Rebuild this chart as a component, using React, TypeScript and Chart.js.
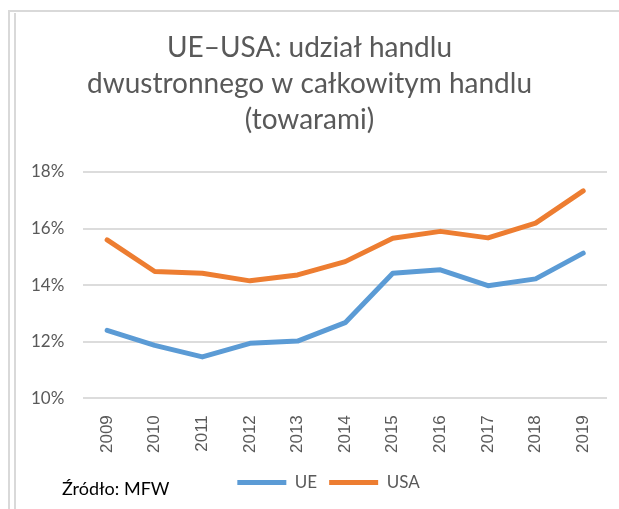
import React, { useEffect, useRef } from "react";
import { Chart, registerables } from "chart.js";

Chart.register(...registerables);

const years = ["2009", "2010", "2011", "2012", "2013", "2014", "2015", "2016", "2017", "2018", "2019"];
const ueValues = [12.40, 11.87, 11.46, 11.94, 12.02, 12.67, 14.42, 14.54, 13.98, 14.22, 15.13];
const usaValues = [15.60, 14.48, 14.42, 14.15, 14.36, 14.83, 15.66, 15.90, 15.67, 16.19, 17.33];
const yTicks = [10, 12, 14, 16, 18];
const titleLines = ["UE–USA: udział handlu", "dwustronnego w całkowitym handlu", "(towarami)"];
const sourceText = "Źródło: MFW";

const BLUE = "#5B9BD5";
const ORANGE = "#ED7D31";
const TEXT = "#595959";

const framePlugin = {
  id: "frame",
  afterLayout(chart: any) {
    const lg = chart.legend;
    if (lg) {
      lg.left += 19;
      lg.right += 19;
    }
  },
  beforeDraw(chart: any) {
    const ctx = chart.ctx;
    ctx.save();
    ctx.strokeStyle = "#d9d9d9";
    ctx.lineWidth = 2;
    ctx.beginPath();
    ctx.moveTo(8, 11);
    ctx.lineTo(chart.width, 11);
    ctx.moveTo(9, 11);
    ctx.lineTo(9, chart.height);
    ctx.moveTo(15, 13);
    ctx.lineTo(15, chart.height);
    ctx.stroke();
    ctx.restore();
  },
  afterDraw(chart: any) {
    const ctx = chart.ctx;
    ctx.save();
    ctx.fillStyle = "#000000";
    ctx.font = "18px Lato";
    ctx.textBaseline = "alphabetic";
    ctx.fillText(sourceText, 62, 495);
    ctx.restore();
  },
};

export default function App() {
  const ref = useRef<HTMLCanvasElement>(null);
  useEffect(() => {
    if (!ref.current) return;
    const chart = new Chart(ref.current, {
      type: "line",
      data: {
        labels: years,
        datasets: [
          {
            label: "UE",
            data: ueValues,
            borderColor: BLUE,
            backgroundColor: BLUE,
            borderWidth: 5,
            pointRadius: 0,
            tension: 0,
            borderCapStyle: "round",
            borderJoinStyle: "round",
          },
          {
            label: "USA",
            data: usaValues,
            borderColor: ORANGE,
            backgroundColor: ORANGE,
            borderWidth: 5,
            pointRadius: 0,
            tension: 0,
            borderCapStyle: "round",
            borderJoinStyle: "round",
          },
        ],
      },
      options: {
        responsive: false,
        animation: false,
        layout: { padding: { left: 12, right: 12, top: 30, bottom: 8 } },
        plugins: {
          title: {
            display: true,
            text: titleLines,
            color: TEXT,
            font: { family: "Lato", size: 28, weight: "normal", lineHeight: 36 / 28 },
            padding: { top: 0, bottom: 34 },
          },
          legend: {
            position: "bottom",
            labels: {
              boxWidth: 49,
              boxHeight: 5,
              color: TEXT,
              font: { family: "Lato", size: 17 },
              padding: 12,
              generateLabels: (ch: any) =>
                Chart.defaults.plugins.legend.labels.generateLabels(ch).map((l: any) => ({
                  ...l,
                  lineWidth: 0,
                })),
            },
          },
          tooltip: { enabled: false },
        },
        scales: {
          x: {
            offset: true,
            grid: { display: false },
            border: { display: false },
            ticks: {
              minRotation: 90,
              maxRotation: 90,
              color: TEXT,
              font: { family: "Liberation Sans", size: 17 },
              padding: 9,
            },
          },
          y: {
            min: yTicks[0],
            max: yTicks[yTicks.length - 1],
            border: { display: false },
            grid: { color: "#dcdcdc", lineWidth: 2, drawTicks: false },
            afterBuildTicks: (axis: any) => {
              axis.ticks = yTicks.map((v) => ({ value: v }));
            },
            ticks: {
              color: TEXT,
              font: { family: "Lato", size: 17 },
              padding: 19,
              callback: (v: any) => `${v}%`,
            },
          },
        },
      },
      plugins: [framePlugin],
    });
    return () => chart.destroy();
  }, []);
  return (
    <div style={{ position: "fixed", left: 0, top: 0, width: 619, height: 509, background: "#fff" }}>
      <canvas ref={ref} width={619} height={509} style={{ display: "block" }} />
    </div>
  );
}
